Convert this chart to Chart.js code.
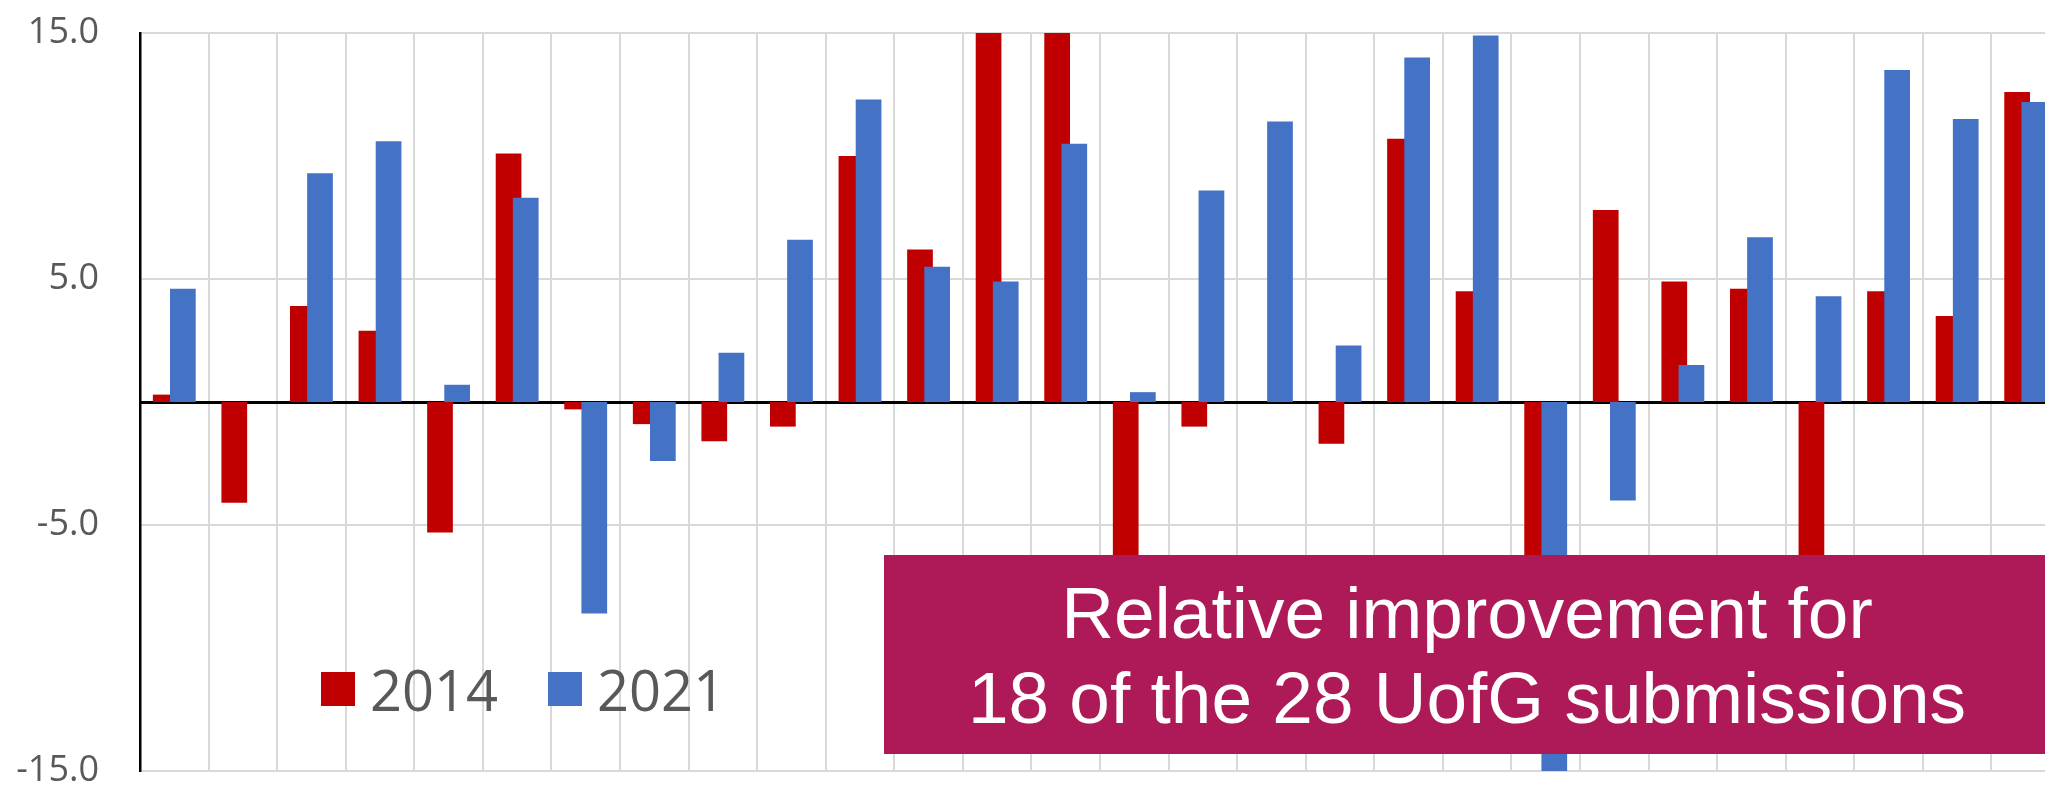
<!DOCTYPE html>
<html>
<head>
<meta charset="utf-8">
<script src="https://cdn.jsdelivr.net/npm/chart.js@4/dist/chart.umd.min.js"></script>
<style>
  html, body { margin: 0; padding: 0; background: #fff; overflow: hidden; }
  #wrap { position: relative; width: 2072px; height: 800px; }
  #chart { position: absolute; left: 0; top: 0; }
  #legend {
    position: absolute; left: 321px; top: 656px; height: 66px;
    display: flex; align-items: center;
    font-family: "Open Sans", sans-serif; font-size: 56px; color: #595959;
  }
  #legend .item { display: flex; align-items: center; margin-right: 50px; }
  #legend .swatch { width: 34px; height: 34px; margin-right: 15px; }
  #note {
    position: absolute; left: 884px; top: 555px; width: 1166px; height: 199px;
    background: #ad1a57; color: #fff;
    font-family: "Liberation Sans", Arial, sans-serif; font-size: 73px; line-height: 85px;
    display: flex; align-items: center; justify-content: center; text-align: center;
  }
</style>
</head>
<body>
<div id="wrap">
  <canvas id="chart" width="2072" height="800"></canvas>
  <div id="legend"></div>
  <div id="note">Relative improvement for<br>18 of the 28 UofG submissions</div>
</div>
<script>
// 28 UofG submissions, relative position in 2014 and 2021
var submissions = ["1", "2", "3", "4", "5", "6", "7", "8", "9", "10", "11", "12", "13", "14",
                   "15", "16", "17", "18", "19", "20", "21", "22", "23", "24", "25", "26", "27", "28"];
var seriesNames = ["2014", "2021"];
var seriesColors = ["#c00000", "#4472c4"];
var values2014 = [0.3, -4.1, 3.9, 2.9, -5.3, 10.1, -0.3, -0.9, -1.6, -1.0, 10.0, 6.2, 16.5, 16.0,
                  -8.0, -1.0, 0, -1.7, 10.7, 4.5, -9.0, 7.8, 4.9, 4.6, -7.5, 4.5, 3.5, 12.6];
var values2021 = [4.6, 0, 9.3, 10.6, 0.7, 8.3, -8.6, -2.4, 2.0, 6.6, 12.3, 5.5, 4.9, 10.5,
                  0.4, 8.6, 11.4, 2.3, 14.0, 14.9, -16.0, -4.0, 1.5, 6.7, 4.3, 13.5, 11.5, 12.2];
var yTicks = [-15, -5, 5, 15];

// Excel draws the later series over the earlier one where they overlap
var blueOnTop = {
    id: "blueOnTop",
    beforeDatasetDraw: function(chart, args) {
        if (args.index === 1) return false;
    },
    afterDatasetsDraw: function(chart) {
        var area = chart.chartArea;
        var ctx = chart.ctx;
        ctx.save();
        ctx.beginPath();
        ctx.rect(area.left, area.top, area.right - area.left, area.bottom - area.top);
        ctx.clip();
        chart.getDatasetMeta(1).controller.draw();
        ctx.restore();
    }
};

var chart = new Chart(document.getElementById("chart"), {
    type: "bar",
    data: {
        labels: submissions,
        datasets: [
            { label: seriesNames[0], data: values2014, backgroundColor: seriesColors[0] },
            { label: seriesNames[1], data: values2021, backgroundColor: seriesColors[1] }
        ]
    },
    plugins: [blueOnTop],
    options: {
        responsive: false,
        devicePixelRatio: 1,
        animation: false,
        categoryPercentage: 0.5,
        barPercentage: 1.5,
        layout: { padding: { left: 0, right: 12, top: 33, bottom: 29 } },
        plugins: { legend: { display: false }, tooltip: { enabled: false } },
        scales: {
            x: {
                position: { y: 0 },
                z: 1,
                ticks: { display: false },
                grid: { color: "#d9d9d9", lineWidth: 2, drawTicks: false },
                border: { display: true, color: "#000", width: 3 }
            },
            y: {
                min: -15,
                max: 15,
                afterBuildTicks: function(scale) {
                    scale.ticks = yTicks.map(function(v) { return { value: v }; });
                },
                afterFit: function(scale) {
                    scale.width = 140;
                    // tick padding is meant horizontally only
                    scale.paddingTop = 0;
                    scale.paddingBottom = 0;
                },
                ticks: {
                    padding: 41,
                    color: "#595959",
                    font: { family: "Open Sans", size: 36 },
                    callback: function(v) { return v.toFixed(1); }
                },
                grid: { color: "#d9d9d9", lineWidth: 2, drawTicks: false },
                border: { display: true, color: "#000", width: 2.5 }
            }
        }
    }
});

var legend = document.getElementById("legend");
seriesNames.forEach(function(name, i) {
    var item = document.createElement("div");
    item.className = "item";
    var sw = document.createElement("div");
    sw.className = "swatch";
    sw.style.background = seriesColors[i];
    var txt = document.createElement("span");
    txt.textContent = name;
    item.appendChild(sw);
    item.appendChild(txt);
    legend.appendChild(item);
});
</script>
</body>
</html>
